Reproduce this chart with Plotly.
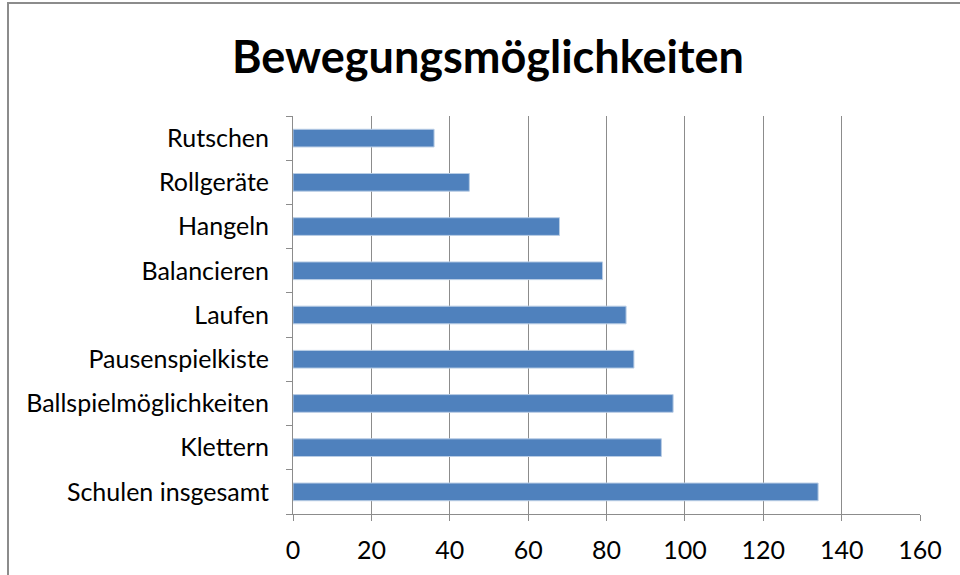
import plotly.graph_objects as go

categories = ["Schulen insgesamt", "Klettern", "Ballspielmöglichkeiten", "Pausenspielkiste",
              "Laufen", "Balancieren", "Hangeln", "Rollgeräte", "Rutschen"]
values = [134, 94, 97, 87, 85, 79, 68, 45, 36]
x_ticks = [0, 20, 40, 60, 80, 100, 120, 140, 160]

FONT = "Lato"
GRID = "#8c8c8c"

fig = go.Figure(go.Bar(
    y=categories, x=values, orientation="h",
    marker=dict(color="#4f81bd", line=dict(color="#b9cde5", width=1)),
    width=0.4,
))

L, R, T, B = 293, 960 - 920, 116, 575 - 514
fig.update_layout(
    width=960, height=575,
    margin=dict(l=L, r=R, t=T, b=B, autoexpand=False),
    paper_bgcolor="white", plot_bgcolor="white",
    showlegend=False,
    title=dict(text="<b>Bewegungsmöglichkeiten</b>", x=488 / 960, xref="container", xanchor="center",
               y=1 - 57 / 575, yref="container", yanchor="middle",
               font=dict(family=FONT, size=45, color="black")),
    font=dict(family=FONT, size=25, color="black"),
)
fig.update_xaxes(range=[0, 160], tickvals=x_ticks, showgrid=True, gridcolor=GRID, gridwidth=1,
                 showline=True, linecolor=GRID, linewidth=1, ticks="outside", ticklen=6,
                 tickcolor=GRID, zeroline=False, tickfont=dict(family=FONT, size=25),
                 ticklabelstandoff=8, automargin=False)
fig.update_yaxes(showline=True, linecolor=GRID, linewidth=1, ticks="outside", ticklen=6,
                 tickcolor=GRID, tickson="boundaries", showgrid=False,
                 tickfont=dict(family=FONT, size=25), ticklabelstandoff=18, automargin=False)
# outer chart frame (only left and top edges are visible in the picture)
fig.add_shape(type="rect", xref="paper", yref="paper",
              x0=(8 - 293) / 627, x1=(1000 - 293) / 627,
              y0=(514 - 600) / 398, y1=(514 - 3) / 398,
              line=dict(color="#8c8c8c", width=2), fillcolor="rgba(0,0,0,0)", layer="below")

fig.write_html("out.html", config={"displayModeBar": False},
               post_script="document.body.style.margin='0';document.body.style.overflow='hidden';")
